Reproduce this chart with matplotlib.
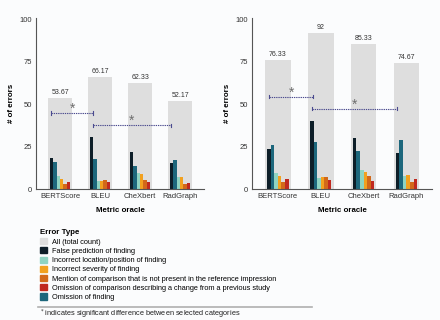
import numpy as np
import matplotlib
matplotlib.use('Agg')
import matplotlib.pyplot as plt
from matplotlib.patches import Patch
from matplotlib.lines import Line2D

plt.rcParams['font.family'] = ['Liberation Sans', 'DejaVu Sans']

# data
metrics = ['BERTScore', 'BLEU', 'CheXbert', 'RadGraph']

total_L = [53.67, 66.17, 62.33, 52.17]
false_pred_L = [18.6, 30.8, 21.8, 15.2]
omit_find_L = [15.8, 18.0, 13.6, 17.4]
location_L = [7.6, 4.6, 9.8, 7.0]
severity_L = [6.2, 5.0, 9.2, 7.4]
mention_L = [2.8, 5.6, 5.6, 2.8]
omit_comp_L = [4.4, 4.0, 4.2, 3.8]

total_R = [76.33, 92, 85.33, 74.67]
false_pred_R = [23.9, 40.4, 30.0, 21.5]
omit_find_R = [26.2, 27.6, 22.5, 28.8]
location_R = [9.5, 6.4, 11.5, 7.6]
severity_R = [8.0, 7.0, 10.1, 8.4]
mention_R = [4.0, 7.4, 7.8, 4.0]
omit_comp_R = [6.0, 5.2, 5.0, 5.8]

# significance brackets: (start, end, height)
sig_L = [(-0.22, 0.82, 44.8), (0.82, 2.76, 37.6)]
sig_R = [(-0.20, 0.82, 54.5), (0.80, 2.78, 47.5)]

labels = ['All (total count)',
          'False prediction of finding',
          'Incorrect location/position of finding',
          'Incorrect severity of finding',
          'Mention of comparison that is not present in the reference impression',
          'Omission of comparison describing a change from a previous study',
          'Omission of finding']
c_all = '#dedede'
c_false = '#0d1e28'
c_loc = '#8fd4c2'
c_sev = '#f2a11f'
c_men = '#d2691a'
c_omc = '#c0291f'
c_omf = '#1d677c'

bg = '#fbfcfd'
fig = plt.figure(figsize=(4.4, 3.2), dpi=100, facecolor=bg)
ax1 = fig.add_axes([0.082, 0.409, 0.382, 0.535])
ax2 = fig.add_axes([0.573, 0.409, 0.409, 0.535])


def draw(ax, total, series, sig):
    x = np.arange(len(metrics))
    ax.set_facecolor(bg)
    ax.bar(x, total, width=0.6, color=c_all, zorder=1)
    cols = [c_false, c_omf, c_loc, c_sev, c_men, c_omc]
    w = 0.5 / 6
    for i, (vals, c) in enumerate(zip(series, cols)):
        ax.bar(x + (i - 2.5) * w, vals, width=w, color=c, zorder=2)
    for xi, t in zip(x, total):
        ax.text(xi, t + 1.2, '%g' % t, ha='center', va='bottom', fontsize=5, color='#333333')
    for x0, x1, y in sig:
        ax.plot([x0, x1], [y, y], ls=(0, (1.2, 0.8)), color='#4b4b8f', lw=0.8, zorder=3)
        for xe in (x0, x1):
            ax.plot([xe, xe], [y - 1.0, y + 1.0], color='#4b4b8f', lw=0.8, zorder=3)
        ax.text((x0 + x1) / 2, y + 2.5, '*', ha='center', va='center', fontsize=10, color='#6e6e6e')
    ax.set_xlim(-0.6, 3.6)
    ax.set_ylim(0, 101)
    ax.set_yticks([0, 25, 50, 75, 100])
    ax.set_xticks(x)
    ax.set_xticklabels(metrics)
    ax.tick_params(length=0, labelsize=5.5, labelcolor='#333333', pad=3)
    for s in ['top', 'right']:
        ax.spines[s].set_visible(False)
    for s in ['left', 'bottom']:
        ax.spines[s].set_color('#555555')
        ax.spines[s].set_linewidth(0.8)
    ax.set_xlabel('Metric oracle', fontsize=5.7, fontweight='bold', labelpad=5)
    ax.set_ylabel('# of errors', fontsize=5.7, fontweight='bold', labelpad=3)


draw(ax1, total_L, [false_pred_L, omit_find_L, location_L, severity_L, mention_L, omit_comp_L], sig_L)
draw(ax2, total_R, [false_pred_R, omit_find_R, location_R, severity_R, mention_R, omit_comp_R], sig_R)

handles = [Patch(color=c) for c in [c_all, c_false, c_loc, c_sev, c_men, c_omc, c_omf]]
leg = fig.legend(handles, labels, loc='upper left', bbox_to_anchor=(40 / 440, 1 - 229.5 / 320),
                 frameon=False, fontsize=5.3, title='Error Type', alignment='left',
                 title_fontproperties={'weight': 'bold', 'size': 5.7},
                 handlelength=0.9, handleheight=0.9, handletextpad=0.7,
                 labelspacing=0.22, borderpad=0, borderaxespad=0)

fig.add_artist(Line2D([38 / 440, 312 / 440], [1 - 306.5 / 320, 1 - 306.5 / 320],
                      color='#b0b0b0', lw=1.2))
fig.text(40 / 440, 1 - 314 / 320, r'$^{*}$ indicates significant difference between selected categories',
         fontsize=5.3, va='center', ha='left', color='#222222')

fig.savefig('out.png', dpi=100, facecolor=bg)
